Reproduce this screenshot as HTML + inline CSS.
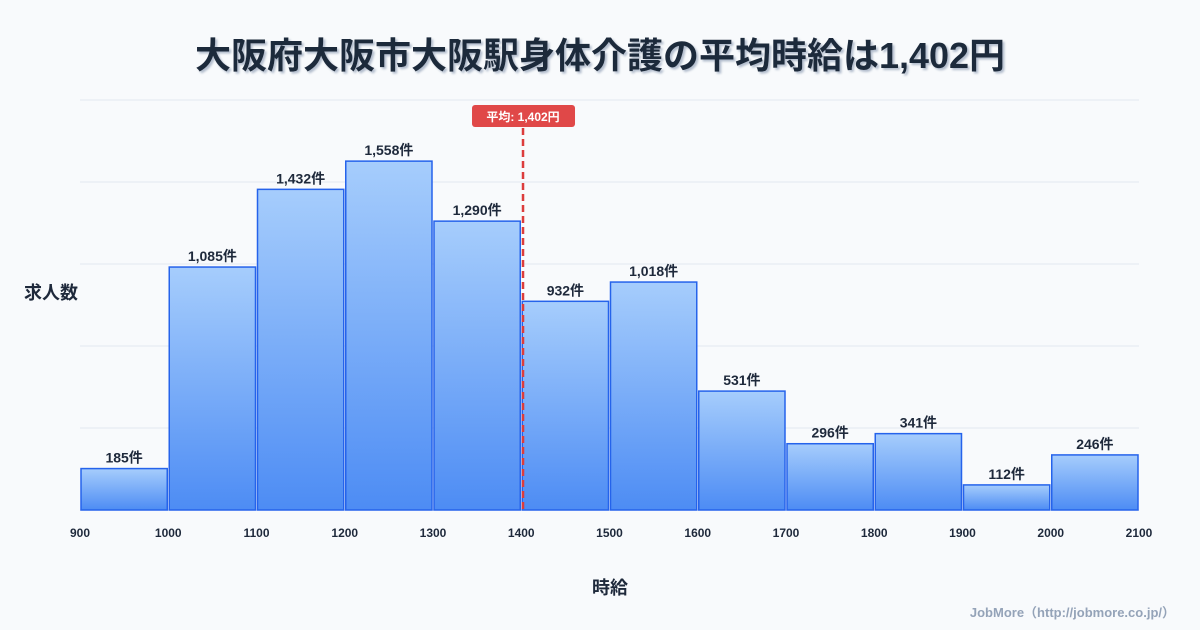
<!DOCTYPE html>
<html><head><meta charset="utf-8">
<style>
body{margin:0;background:#f8fafc;}
svg{display:block;font-family:"Liberation Sans","Noto Sans CJK JP",sans-serif;}
</style></head>
<body>
<svg id="c" width="1200" height="630" viewBox="0 0 1200 630">
<defs>
<linearGradient id="g" x1="0" y1="0" x2="0" y2="1">
<stop offset="0" stop-color="#a6cdfc"/><stop offset="1" stop-color="#4d8cf4"/>
</linearGradient>
<filter id="sh"><feDropShadow dx="2" dy="2" stdDeviation="1" flood-color="#94a3b8" flood-opacity="0.7"/></filter>
</defs>
<rect width="1200" height="630" fill="#f8fafc"/>
<text x="600" y="68" text-anchor="middle" font-size="36" font-weight="bold" fill="#1e293b" filter="url(#sh)">大阪府大阪市大阪駅身体介護の平均時給は1,402円</text>
<g id="grid"></g>
<g id="bars"></g>
<g id="xt"></g>
<text x="51" y="299" text-anchor="middle" font-size="18" font-weight="bold" fill="#1e293b">求人数</text>
<text x="610" y="594" text-anchor="middle" font-size="18" font-weight="bold" fill="#1e293b">時給</text>
<text x="1175" y="617" text-anchor="end" font-size="13" font-weight="bold" fill="#94a3b8">JobMore（http://jobmore.co.jp/）</text>
<g id="mean"></g>
</svg>
<script>
const binStarts=[900,1000,1100,1200,1300,1400,1500,1600,1700,1800,1900,2000];
const counts=[185,1085,1432,1558,1290,932,1018,531,296,341,112,246];
const xTicks=[900,1000,1100,1200,1300,1400,1500,1600,1700,1800,1900,2000,2100];
const meanValue=1402;
const meanLabel="平均: 1,402円";
const NS="http://www.w3.org/2000/svg";
const X0=80,X1=1139,XMIN=900,XMAX=2100,Y0=510,Y1=100,YMAX=1831;
const x=v=>X0+(v-XMIN)/(XMAX-XMIN)*(X1-X0);
const y=v=>Y0-v/YMAX*(Y0-Y1);
function mk(t,a,p){const e=document.createElementNS(NS,t);for(const k in a)e.setAttribute(k,a[k]);p.appendChild(e);return e;}
const grid=document.getElementById('grid');
for(let i=0;i<=5;i++){const gy=Y0-i*(Y0-Y1)/5;
const l=mk('line',{x1:X0,x2:X1,y1:gy,y2:gy,stroke:i==0?'#cbd5e1':'#e2e8f0','stroke-width':1},grid);

}
const bars=document.getElementById('bars');
binStarts.forEach((b,i)=>{
const xa=x(b)+1,xb=x(b+100)-1,yt=y(counts[i]);
const r=mk('rect',{x:xa,y:yt,width:xb-xa,height:Y0-yt,fill:'url(#g)',stroke:'#2563eb','stroke-width':1.5},bars);


const t=mk('text',{x:(xa+xb)/2,y:yt-6,'text-anchor':'middle','font-size':14,'font-weight':'bold',fill:'#1e293b'},bars);
t.textContent=counts[i].toLocaleString('en-US')+'件';


});
const xt=document.getElementById('xt');
xTicks.forEach(v=>{
const t=mk('text',{x:x(v),y:537,'text-anchor':'middle','font-size':12,'font-weight':'bold',fill:'#1e293b'},xt);
t.textContent=v;


});
const mg=document.getElementById('mean');
const mx=x(meanValue);
const ml=mk('line',{x1:mx,x2:mx,y1:128,y2:Y0,stroke:'#dc3c3c','stroke-width':2.5,'stroke-dasharray':'7,4'},mg);


const mr=mk('rect',{x:mx-51,y:105,width:103,height:22,rx:3,fill:'#e04848'},mg);


const mt=mk('text',{x:mx,y:121,'text-anchor':'middle','font-size':12,'font-weight':'bold',fill:'#fff'},mg);
mt.textContent=meanLabel;


</script>
</body></html>
